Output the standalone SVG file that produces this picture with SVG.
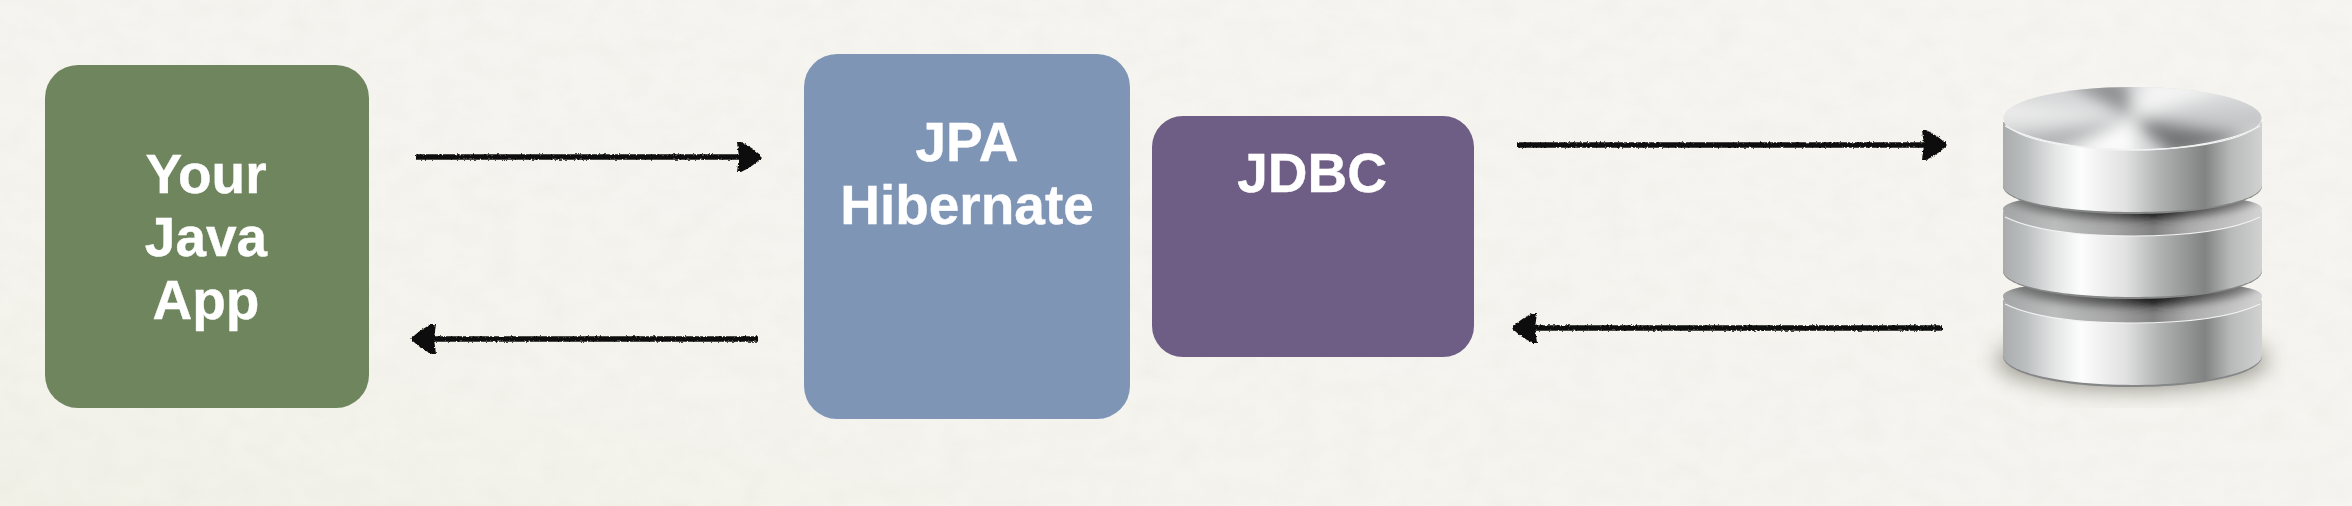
<svg xmlns="http://www.w3.org/2000/svg" width="2352" height="506" viewBox="0 0 2352 506">
<style>
.label{font-family:"Liberation Sans",Arial,sans-serif;font-weight:700;font-size:55px;fill:#fff;stroke:#fff;stroke-width:.4;text-anchor:middle}
.arrow{fill:none;stroke:#111;stroke-width:5.5;marker-end:url(#head)}
.rim{fill:none;stroke:#f2f2f2;stroke-width:1.2}
</style>
<defs>
<marker id="head" markerUnits="userSpaceOnUse" markerWidth="32" markerHeight="36" refX="25" refY="18" orient="auto">
<path d="M1 3 L5 3 Q18 9 26 18 Q18 27 5 33 L1 33 L3 18Z" fill="#111"/>
</marker>
<filter id="rough" filterUnits="userSpaceOnUse" x="0" y="0" width="2352" height="506">
<feTurbulence type="fractalNoise" baseFrequency="0.45" numOctaves="2" seed="4"/>
<feDisplacementMap in="SourceGraphic" scale="3" xChannelSelector="R" yChannelSelector="G"/>
</filter>
<filter id="paper" filterUnits="userSpaceOnUse" x="0" y="0" width="2352" height="506">
<feTurbulence type="fractalNoise" baseFrequency="0.035 0.05" numOctaves="4" seed="7"/>
<feColorMatrix values="0 0 0 0 .62  0 0 0 0 .6  0 0 0 0 .52  .5 .5 0 0 -.38"/>
</filter>
<filter id="b20" x="-30%" y="-30%" width="160%" height="160%"><feGaussianBlur stdDeviation="11"/></filter>
<filter id="b9" filterUnits="userSpaceOnUse" x="1980" y="60" width="310" height="110"><feGaussianBlur stdDeviation="8"/></filter>
<filter id="b4" x="-10%" y="-60%" width="120%" height="220%"><feGaussianBlur stdDeviation="5"/></filter>
<linearGradient id="wash" x1="0" y1="1" x2="1" y2="0">
<stop offset="0" stop-color="#f2f1e8"/><stop offset=".3" stop-color="#f5f4ef"/><stop offset="1" stop-color="#f6f5f1"/>
</linearGradient>
<linearGradient id="side">
<stop offset="0" stop-color="#a9abac"/><stop offset=".09" stop-color="#bcbfc1"/><stop offset=".2" stop-color="#e4e5e5"/>
<stop offset=".3" stop-color="#fdfdfd"/><stop offset=".47" stop-color="#e2e2e2"/><stop offset=".6" stop-color="#b2b3b3"/>
<stop offset=".78" stop-color="#818382"/><stop offset=".88" stop-color="#b8b9b9"/><stop offset="1" stop-color="#d2d2d2"/>
</linearGradient>
<linearGradient id="groove">
<stop offset="0" stop-color="#a4a5a6"/><stop offset=".2" stop-color="#bcbdbd"/><stop offset=".42" stop-color="#a6a6a6"/>
<stop offset=".58" stop-color="#828282"/><stop offset=".72" stop-color="#acacac"/><stop offset="1" stop-color="#d4d4d4"/>
</linearGradient>
<linearGradient id="shade">
<stop offset="0" stop-color="#777"/><stop offset=".25" stop-color="#666"/><stop offset=".45" stop-color="#444"/>
<stop offset=".58" stop-color="#111"/><stop offset=".72" stop-color="#444"/><stop offset="1" stop-color="#888"/>
</linearGradient>
<clipPath id="topClip"><ellipse cx="2132.5" cy="118" rx="129" ry="31"/></clipPath>
<clipPath id="g2"><path d="M2003 209C2003 198 2061 194 2132.5 194C2204 194 2262 198 2262 209C2262 225 2204 236 2132.5 236C2061 236 2003 225 2003 209Z"/></clipPath>
<clipPath id="g3"><path d="M2003 296C2003 285 2061 281 2132.5 281C2204 281 2262 285 2262 296C2262 312 2204 323 2132.5 323C2061 323 2003 312 2003 296Z"/></clipPath>
</defs>
<rect id="background" width="2352" height="506" fill="url(#wash)"/>
<rect width="2352" height="506" filter="url(#paper)" opacity=".22"/>

<g id="connectors" filter="url(#rough)">
<path class="arrow" d="M416 157H761"/>
<path class="arrow" d="M758 339H412"/>
<path class="arrow" d="M1517 145H1946"/>
<path class="arrow" d="M1942 328H1513"/>
</g>

<g id="your-java-app">
<rect x="45" y="65" width="324" height="343" rx="33" fill="#6e855d"/>
<text class="label" x="206" y="193">Your</text>
<text class="label" x="206" y="256">Java</text>
<text class="label" x="206" y="319">App</text>
</g>
<g id="jpa-hibernate">
<rect x="804" y="54" width="326" height="365" rx="33" fill="#7f95b6"/>
<text class="label" x="967" y="161">JPA</text>
<text class="label" x="967" y="224">Hibernate</text>
</g>
<g id="jdbc">
<rect x="1152" y="116" width="322" height="241" rx="31" fill="#6e5d84"/>
<text class="label" x="1312" y="192">JDBC</text>
</g>

<g id="database">
<ellipse cx="2132" cy="360" rx="136" ry="30" fill="#5f5b50" opacity=".6" filter="url(#b20)"/>
<path d="M2003 300H2262V356C2262 374 2204 387 2132.5 387C2061 387 2003 374 2003 356Z" fill="#858687"/>
<path d="M2003 300H2262V355C2262 372 2204 385 2132.5 385C2061 385 2003 372 2003 355Z" fill="url(#side)"/>
<path d="M2003 296C2003 285 2061 281 2132.5 281C2204 281 2262 285 2262 296C2262 312 2204 323 2132.5 323C2061 323 2003 312 2003 296Z" fill="url(#groove)"/>
<g clip-path="url(#g3)"><path d="M2003 270H2262V279C2262 295 2204 306 2132.5 306C2061 306 2003 295 2003 279Z" fill="url(#shade)" filter="url(#b4)"/></g>
<path class="rim" d="M2005 304C2030 316 2075 323 2132.5 323C2190 323 2235 316 2260 304"/>

<path d="M2003 212H2262V271C2262 287 2204 299 2132.5 299C2061 299 2003 287 2003 271Z" fill="#858687"/>
<path d="M2003 212H2262V270C2262 286 2204 297 2132.5 297C2061 297 2003 286 2003 270Z" fill="url(#side)"/>
<path d="M2003 209C2003 198 2061 194 2132.5 194C2204 194 2262 198 2262 209C2262 225 2204 236 2132.5 236C2061 236 2003 225 2003 209Z" fill="url(#groove)"/>
<g clip-path="url(#g2)"><path d="M2003 183H2262V192C2262 208 2204 219 2132.5 219C2061 219 2003 208 2003 192Z" fill="url(#shade)" filter="url(#b4)"/></g>
<path class="rim" d="M2005 217C2030 229 2075 236 2132.5 236C2190 236 2235 229 2260 217"/>

<path d="M2003 122H2262V186C2262 202 2204 214 2132.5 214C2061 214 2003 202 2003 186Z" fill="#858687"/>
<path d="M2003 122H2262V185C2262 201 2204 212 2132.5 212C2061 212 2003 201 2003 185Z" fill="url(#side)"/>
<ellipse cx="2132.5" cy="119" rx="129" ry="31.5" fill="#f4f4f4"/>
<g clip-path="url(#topClip)">
<rect x="2000" y="85" width="265" height="70" fill="#d6d7d8"/>
<g filter="url(#b9)">
<path d="M2132 118L2060 78L2125 78Z" fill="#8f9091"/>
<path d="M2132 118L2145 78L2262 78Z" fill="#f4f4f4"/>
<path d="M2132 118L2270 108L2270 130Z" fill="#c4c5c6"/>
<path d="M2132 118L2250 135L2175 158Z" fill="#727374"/>
<path d="M2132 118L2138 158L2060 158Z" fill="#fdfdfd"/>
<path d="M2132 118L2000 140L2000 158L2040 158Z" fill="#b0b1b2"/>
<path d="M2132 118L1995 100L1995 122Z" fill="#eeeeee"/>
</g>
</g>
<path class="rim" d="M2005 126C2028 139 2075 150 2132.5 150C2190 150 2237 139 2260 126"/>
</g>
</svg>
